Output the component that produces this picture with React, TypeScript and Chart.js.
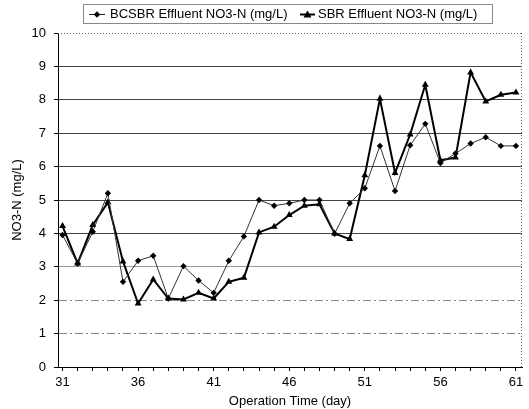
import React, { useEffect, useRef } from 'react';
import { Chart, registerables } from 'chart.js';

Chart.register(...registerables);

const days = [31, 32, 33, 34, 35, 36, 37, 38, 39, 40, 41, 42, 43, 44, 45, 46, 47, 48, 49, 50, 51, 52, 53, 54, 55, 56, 57, 58, 59, 60, 61];
const bcsbrValues = [3.95, 3.1, 4.05, 5.2, 2.55, 3.18, 3.33, 2.05, 3.02, 2.59, 2.22, 3.18, 3.91, 5.0, 4.83, 4.9, 5.0, 5.0, 3.99, 4.9, 5.35, 6.62, 5.27, 6.64, 7.28, 6.11, 6.39, 6.69, 6.88, 6.62, 6.62];
const sbrValues = [4.22, 3.1, 4.25, 4.93, 3.16, 1.9, 2.62, 2.05, 2.02, 2.22, 2.05, 2.55, 2.67, 4.03, 4.2, 4.55, 4.83, 4.87, 4.0, 3.83, 5.74, 8.03, 5.81, 6.96, 8.45, 6.19, 6.27, 8.82, 7.95, 8.15, 8.22];
const xLabelDays = [31, 36, 41, 46, 51, 56, 61];
const seriesNames = ['BCSBR Effluent NO3-N (mg/L)', 'SBR Effluent NO3-N (mg/L)'];
const xTitle = 'Operation Time (day)';
const yTitle = 'NO3-N (mg/L)';

const FONT = "'Liberation Sans', Arial, sans-serif";

const framePlugin = {
  id: 'framePlugin',
  afterDraw(chart: any) {
    const { ctx, chartArea: a } = chart;
    ctx.save();
    // dotted top and right border
    ctx.strokeStyle = '#666';
    ctx.lineWidth = 1;
    ctx.setLineDash([1, 2]);
    ctx.beginPath();
    ctx.moveTo(a.left, a.top + 0.5);
    ctx.lineTo(a.right, a.top + 0.5);
    ctx.moveTo(a.right - 0.5, a.top);
    ctx.lineTo(a.right - 0.5, a.bottom);
    ctx.stroke();
    ctx.setLineDash([]);

    // legend box
    const bx = 83, by = 4, bw = 409, bh = 19;
    ctx.strokeStyle = '#888';
    ctx.strokeRect(bx + 0.5, by + 0.5, bw, bh);
    const cy = by + bh / 2 + 1;

    // item 1: thin line + diamond
    ctx.strokeStyle = '#222';
    ctx.lineWidth = 1;
    ctx.beginPath();
    ctx.moveTo(89, cy);
    ctx.lineTo(105, cy);
    ctx.stroke();
    ctx.fillStyle = '#000';
    ctx.beginPath();
    ctx.moveTo(97, cy - 3.2);
    ctx.lineTo(100.2, cy);
    ctx.lineTo(97, cy + 3.2);
    ctx.lineTo(93.8, cy);
    ctx.closePath();
    ctx.fill();
    ctx.font = `13px ${FONT}`;
    ctx.textBaseline = 'middle';
    ctx.textAlign = 'left';
    ctx.fillText(seriesNames[0], 110, cy);

    // item 2: thick line + triangle
    ctx.strokeStyle = '#000';
    ctx.lineWidth = 2;
    ctx.beginPath();
    ctx.moveTo(300, cy);
    ctx.lineTo(315, cy);
    ctx.stroke();
    ctx.beginPath();
    ctx.moveTo(307.5, cy - 4);
    ctx.lineTo(311.5, cy + 3);
    ctx.lineTo(303.5, cy + 3);
    ctx.closePath();
    ctx.fill();
    ctx.fillText(seriesNames[1], 318, cy);
    ctx.restore();
  },
};

export default function App() {
  const ref = useRef<HTMLCanvasElement | null>(null);
  useEffect(() => {
    if (!ref.current) return;
    Chart.defaults.font.family = FONT;
    Chart.defaults.font.size = 13;
    Chart.defaults.color = '#000';
    const chart = new Chart(ref.current, {
      type: 'line',
      data: {
        datasets: [
          {
            label: seriesNames[0],
            data: days.map((d, i) => ({ x: d, y: bcsbrValues[i] })),
            borderColor: '#333',
            borderWidth: 1,
            pointStyle: 'rectRot',
            pointRadius: 3.2,
            pointBackgroundColor: '#000',
            pointBorderColor: '#000',
            pointBorderWidth: 0,
            tension: 0,
          },
          {
            label: seriesNames[1],
            data: days.map((d, i) => ({ x: d, y: sbrValues[i] })),
            borderColor: '#000',
            borderWidth: 2,
            pointStyle: 'triangle',
            pointRadius: 4,
            pointBackgroundColor: '#000',
            pointBorderColor: '#000',
            pointBorderWidth: 0,
            tension: 0,
          },
        ],
      },
      options: {
        animation: false,
        responsive: true,
        maintainAspectRatio: false,
        layout: { padding: { left: 0, right: 7, top: 33, bottom: 0 } },
        plugins: {
          legend: { display: false },
          tooltip: { enabled: false },
        },
        scales: {
          x: {
            type: 'linear',
            min: 30.7,
            max: 61.4,
            afterBuildTicks: (scale: any) => {
              scale.ticks = days.map((v) => ({ value: v }));
            },
            afterFit: (scale: any) => {
              scale.height = 42;
            },
            ticks: {
              autoSkip: false,
              maxRotation: 0,
              padding: 4,
              font: { size: 13 },
              callback: (v: any) => (xLabelDays.includes(Number(v)) ? String(v) : ''),
            },
            grid: { display: true, drawOnChartArea: false, drawTicks: true, tickLength: 4, color: '#000' },
            border: { color: '#000', width: 1 },
            title: { display: true, text: xTitle, font: { size: 13 }, padding: { top: 18, bottom: 0 } },
          },
          y: {
            min: 0,
            max: 10,
            afterFit: (scale: any) => {
              scale.width = 58;
            },
            ticks: { stepSize: 1, padding: 8, font: { size: 13 } },
            grid: {
              tickLength: 4,
              tickColor: '#000',
              color: (ctx: any) => {
                const v = ctx.tick ? ctx.tick.value : 0;
                if (v === 10 || v === 0) return 'rgba(0,0,0,0)';
                if (v === 3) return '#999';
                if (v <= 2) return '#888';
                return '#444';
              },
            },
            border: {
              color: '#000',
              width: 1,
              dash: (ctx: any) => {
                const v = ctx.tick ? ctx.tick.value : 0;
                return v === 1 || v === 2 ? [8, 3, 2, 3] : [];
              },
            },
            title: { display: true, text: yTitle, font: { size: 13 }, padding: { top: 10, bottom: 0 } },
          },
        },
      },
      plugins: [framePlugin],
    } as any);
    return () => chart.destroy();
  }, []);
  return (
    <div style={{ position: 'absolute', left: 0, top: 0, width: 529, height: 409 }}>
      <canvas ref={ref} />
    </div>
  );
}
